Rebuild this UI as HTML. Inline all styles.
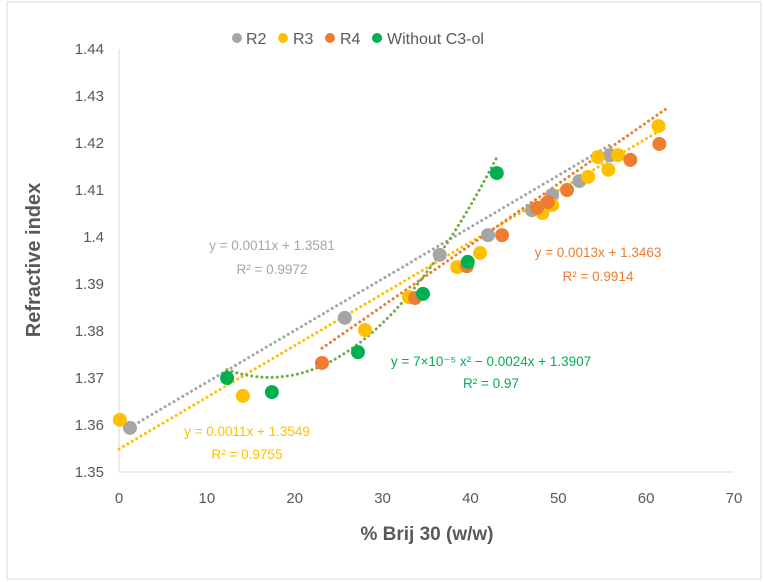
<!DOCTYPE html>
<html><head><meta charset="utf-8"><style>
body{margin:0;background:#fff;}
svg{display:block;font-family:"Liberation Sans",sans-serif;}
</style></head><body>
<svg id="chart" width="763" height="582">
<rect x="7" y="2" width="754" height="577" fill="#fff" stroke="#d9d9d9"/>
<g id="legend">
 <g><circle cx="237" cy="38" r="5" fill="#A5A5A5"/><text x="246" y="44" font-size="16" fill="#595959">R2</text></g>
 <g><circle cx="283" cy="38" r="5" fill="#FFC000"/><text x="293" y="44" font-size="16" fill="#595959">R3</text></g>
 <g><circle cx="330" cy="38" r="5" fill="#ED7D31"/><text x="340" y="44" font-size="16" fill="#595959">R4</text></g>
 <g><circle cx="377" cy="38" r="5" fill="#00B050"/><text x="387" y="44" font-size="16" fill="#595959">Without C3-ol</text></g>
</g>
<line x1="119" y1="49" x2="119" y2="472" stroke="#d9d9d9"/>
<line x1="119" y1="472" x2="734" y2="472" stroke="#d9d9d9"/>
<g id="xticks"></g>
<g id="yticks"></g>
<g id="trends"></g>
<g id="points"></g>
<text x="40" y="260" transform="rotate(-90 40 260)" text-anchor="middle" font-size="20" font-weight="bold" fill="#595959">Refractive index</text>
<text x="427" y="540" text-anchor="middle" font-size="19" font-weight="bold" fill="#595959">% Brij 30 (w/w)</text>
<g font-size="13.5" text-anchor="middle">
 <text x="272" y="250" fill="#A5A5A5">y = 0.0011x + 1.3581</text>
 <text x="272" y="274" fill="#A5A5A5">R² = 0.9972</text>
 <text x="598" y="257" fill="#ED7D31">y = 0.0013x + 1.3463</text>
 <text x="598" y="281" fill="#ED7D31">R² = 0.9914</text>
 <text x="491" y="366" fill="#00B050">y = 7×10⁻⁵ x² − 0.0024x + 1.3907</text>
 <text x="491" y="388" fill="#00B050">R² = 0.97</text>
 <text x="247" y="436" fill="#FFC000">y = 0.0011x + 1.3549</text>
 <text x="247" y="459" fill="#FFC000">R² = 0.9755</text>
</g>
</svg>
<script>
const xTicks=[0,10,20,30,40,50,60,70];
const yTicks=[1.35,1.36,1.37,1.38,1.39,1.4,1.41,1.42,1.43,1.44];
const r2X=[1.25,25.7,36.5,42.0,47.0,49.3,52.4,55.9];
const r2Y=[1.3594,1.3828,1.3962,1.4004,1.4057,1.4089,1.4119,1.4174];
const r3X=[0.1,14.1,28.0,33.0,38.5,41.1,48.2,49.3,53.4,55.7,54.5,56.8,61.4];
const r3Y=[1.3611,1.3662,1.3802,1.3872,1.3936,1.3966,1.4051,1.4068,1.4128,1.4143,1.4170,1.4174,1.4236];
const r4X=[23.1,33.7,39.6,43.6,47.6,48.8,51.0,58.2,61.5];
const r4Y=[1.3732,1.3870,1.3938,1.4004,1.4062,1.4074,1.4100,1.4164,1.4198];
const gX=[12.3,17.4,27.2,34.6,39.7,43.0];
const gY=[1.3700,1.3670,1.3755,1.3879,1.3947,1.4136];
const xs=v=>119+v*(734-119)/70;
const ys=v=>472-(v-1.35)*(472-49)/0.09;
const NS="http://www.w3.org/2000/svg";
function mk(t,a,p){const e=document.createElementNS(NS,t);for(const k in a)e.setAttribute(k,a[k]);p.appendChild(e);return e;}
const xt=document.getElementById('xticks');
xTicks.forEach(v=>{const t=mk('text',{x:xs(v),y:503,'text-anchor':'middle','font-size':15,fill:'#595959'},xt);t.textContent=v;

});
const yt=document.getElementById('yticks');
yTicks.forEach(v=>{const t=mk('text',{x:104,y:ys(v)+5,'text-anchor':'end','font-size':15,fill:'#595959'},yt);t.textContent=(Math.round(v*100)/100).toString();

});
const tr=document.getElementById('trends');
function trend(f,x0,x1,col,name){let d='';for(let i=0;i<=60;i++){const x=x0+(x1-x0)*i/60;d+=(i?'L':'M')+xs(x).toFixed(1)+','+ys(f(x)).toFixed(1);}
const p=mk('path',{d:d,fill:'none',stroke:col,'stroke-width':3,'stroke-dasharray':'0.1 5','stroke-linecap':'round'},tr);

}
trend(x=>0.0011*x+1.3581,Math.min(...r2X),Math.max(...r2X),'#A5A5A5','r2-trendline');
trend(x=>0.0011*x+1.3549,0,62.5,'#FFC000','r3-trendline');
trend(x=>0.0013*x+1.3463,Math.min(...r4X),62.3,'#ED7D31','r4-trendline');
trend(x=>7e-5*x*x-0.0024*x+1.3907,Math.min(...gX),Math.max(...gX),'#70AD47','green-trendline');
const pts=document.getElementById('points');
function series(X,Y,col,name){X.forEach((x,i)=>{const c=mk('circle',{cx:xs(x),cy:ys(Y[i]),r:7,fill:col},pts);

});}
series(r2X,r2Y,'#A5A5A5','r2');
series(r3X,r3Y,'#FFC000','r3');
series(r4X,r4Y,'#ED7D31','r4');
series(gX,gY,'#00B050','without-c3-ol');
</script>
</body></html>
